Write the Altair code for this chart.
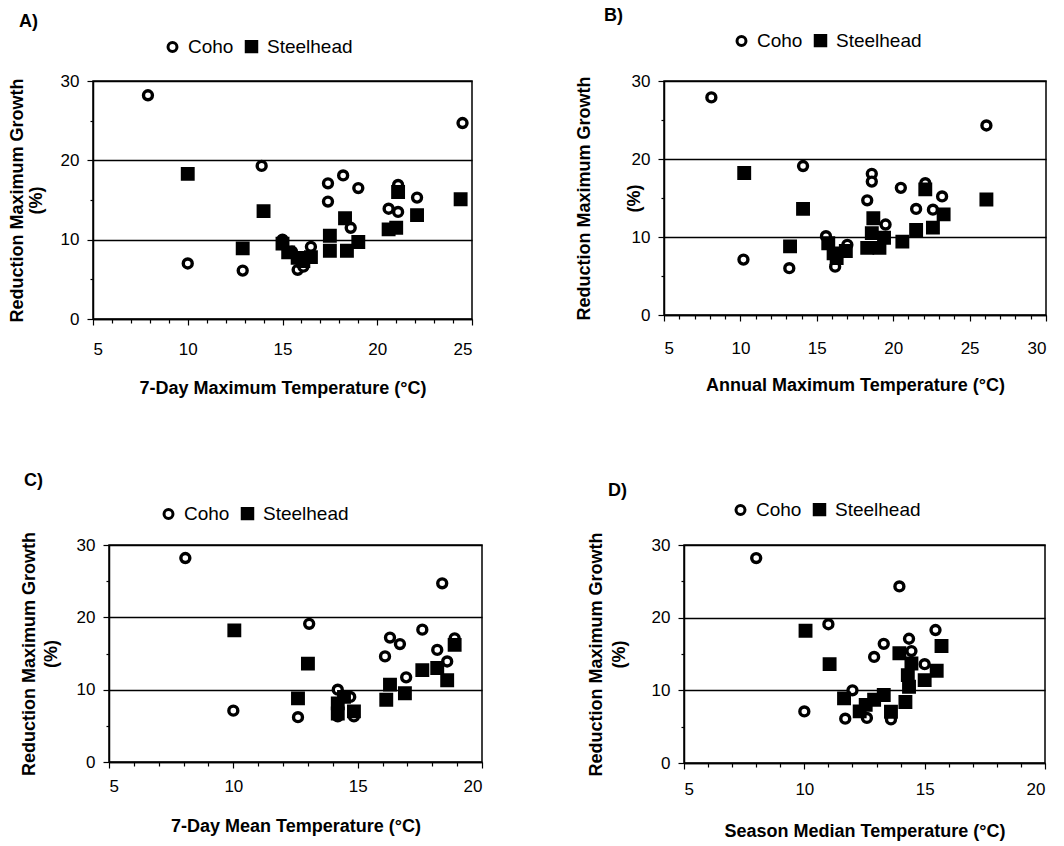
import altair as alt
import pandas as pd

FONT = "Liberation Sans"
SPECIES = ["Coho", "Steelhead"]

# ---- Panel A: 7-Day Maximum Temperature ----
a_coho_x = [7.9, 24.5, 13.9, 18.2, 17.4, 19.0, 17.4, 21.1, 22.1, 20.6, 21.1, 18.6, 16.5, 10.0, 12.9, 15.0, 15.8, 16.1, 15.5]
a_coho_y = [28.2, 24.7, 19.3, 18.1, 17.1, 16.5, 14.8, 16.9, 15.3, 13.9, 13.5, 11.5, 9.1, 7.0, 6.1, 10.0, 6.2, 6.6, 8.5]
a_st_x = [10.0, 14.0, 12.9, 18.3, 17.5, 17.5, 18.4, 19.0, 21.0, 20.6, 22.1, 21.1, 24.4, 15.0, 15.3, 15.8, 16.1, 16.5]
a_st_y = [18.3, 13.6, 8.9, 12.7, 10.5, 8.6, 8.6, 9.7, 11.5, 11.3, 13.1, 16.0, 15.1, 9.5, 8.4, 7.7, 7.3, 7.8]

# ---- Panel B: Annual Maximum Temperature ----
b_coho_x = [8.1, 26.1, 14.1, 18.6, 18.6, 20.5, 22.1, 23.2, 18.3, 21.5, 22.6, 19.5, 17.0, 10.2, 13.2, 15.6, 16.2]
b_coho_y = [27.9, 24.3, 19.1, 18.1, 17.1, 16.3, 16.9, 15.2, 14.7, 13.6, 13.5, 11.6, 9.0, 7.1, 6.0, 10.1, 6.2]
b_st_x = [10.25, 14.1, 13.25, 18.7, 18.6, 18.3, 19.1, 19.4, 20.6, 21.5, 22.6, 23.3, 22.1, 26.1, 15.75, 16.1, 16.9, 16.3]
b_st_y = [18.2, 13.6, 8.8, 12.4, 10.5, 8.6, 8.6, 9.9, 9.4, 10.9, 11.2, 12.9, 16.1, 14.8, 9.2, 7.9, 8.2, 7.3]

# ---- Panel C: 7-Day Mean Temperature ----
c_coho_x = [8.07, 18.4, 13.05, 17.6, 16.3, 16.7, 16.1, 18.9, 18.2, 18.6, 16.95, 10.0, 12.6, 14.2, 14.7, 14.85, 14.2]
c_coho_y = [28.2, 24.7, 19.1, 18.3, 17.2, 16.3, 14.6, 17.1, 15.5, 13.9, 11.7, 7.1, 6.2, 10.0, 9.0, 6.3, 6.3]
c_st_x = [10.04, 13.0, 12.6, 17.6, 18.2, 18.6, 18.9, 16.3, 16.15, 16.9, 14.2, 14.2, 14.85, 14.45]
c_st_y = [18.2, 13.6, 8.8, 12.7, 13.0, 11.3, 16.2, 10.7, 8.6, 9.5, 8.1, 6.7, 7.0, 9.0]

# ---- Panel D: Season Median Temperature ----
d_coho_x = [8.0, 13.95, 11.0, 15.45, 14.35, 13.3, 12.9, 14.45, 15.0, 10.0, 11.7, 12.0, 12.6, 13.6]
d_coho_y = [28.2, 24.3, 19.1, 18.3, 17.1, 16.4, 14.6, 15.4, 13.6, 7.1, 6.1, 10.0, 6.2, 6.0]
d_st_x = [10.05, 11.05, 13.95, 15.5, 15.0, 14.3, 14.35, 14.2, 13.3, 12.9, 12.55, 11.65, 12.3, 13.6, 15.7, 14.45]
d_st_y = [18.2, 13.6, 15.1, 12.7, 11.4, 12.1, 10.5, 8.4, 9.35, 8.7, 8.0, 8.9, 7.1, 7.05, 16.1, 13.7]

y_title = ["Reduction Maximum Growth", "(%)"]

IND = dict(shape="independent", fill="independent", stroke="independent", size="independent")


def panel(label, cx, cy, sx, sy, xmin, xmax, xtitle, w, h, title_x, title_lh,
          leg_x, leg_y, lab_dx, lab_off, x_lab_pad, x_title_pad):
    df = pd.DataFrame({
        "temp": cx + sx,
        "red": cy + sy,
        "Species": ["Coho"] * len(cx) + ["Steelhead"] * len(sx),
    })
    x_axis = alt.Axis(
        values=list(range(xmin, xmax + 1)),
        labelExpr="datum.value % 5 === 0 ? datum.label : ''",
        title=xtitle, grid=False,
        tickSize={"condition": {"test": "datum.value % 5 === 0", "value": 6}, "value": 4},
        labelPadding=x_lab_pad, titlePadding=x_title_pad,
    )
    y_axis = alt.Axis(
        values=[0, 5, 10, 15, 20, 25, 30],
        labelExpr="datum.value % 10 === 0 ? datum.label : ''",
        title=y_title, grid=True, gridColor="black", gridWidth=1.5,
        gridOpacity={"condition": {"test": "datum.value % 10 === 0", "value": 1}, "value": 0},
        tickSize={"condition": {"test": "datum.value % 10 === 0", "value": 6}, "value": 3},
        labelPadding=8,
        titleX=title_x, titleY=h / 2, titleAngle=270, titleBaseline="top",
        titleAlign="center", titleLineHeight=title_lh,
    )
    legend = alt.Legend(
        title=None, orient="none", legendX=leg_x, legendY=leg_y, direction="horizontal",
        labelFont=FONT, labelFontSize=19, labelColor="black",
        symbolStrokeColor="black", symbolStrokeWidth=3, labelOffset=6, columnPadding=6,
    )
    pts = alt.Chart(df).mark_point(filled=True, strokeWidth=3.4, opacity=1).encode(
        x=alt.X("temp:Q", scale=alt.Scale(domain=[xmin, xmax], nice=False, zero=False), axis=x_axis),
        y=alt.Y("red:Q", scale=alt.Scale(domain=[0, 30], nice=False), axis=y_axis),
        shape=alt.Shape("Species:N", scale=alt.Scale(domain=SPECIES, range=["circle", "square"]), legend=legend),
        fill=alt.Fill("Species:N", scale=alt.Scale(domain=SPECIES, range=["white", "black"]), legend=legend),
        stroke=alt.Stroke("Species:N", scale=alt.Scale(domain=SPECIES, range=["black", "black"]), legend=legend),
        size=alt.Size("Species:N", scale=alt.Scale(domain=SPECIES, range=[80, 110]), legend=legend),
    ).properties(
        width=w, height=h,
        title=alt.TitleParams(text=label, anchor="start", frame="group", dx=lab_dx, offset=lab_off,
                              font=FONT, fontSize=18, fontWeight="bold", color="black"),
    )
    return pts


def spacer(w):
    # invisible cell that anchors the left edge of each row
    return alt.Chart(pd.DataFrame({"v": [0]})).mark_rect(opacity=0).encode(
        x=alt.value(0), x2=alt.value(1), y=alt.value(0), y2=alt.value(1)
    ).properties(width=w, height=1, view=alt.ViewBackground(stroke="transparent", fill="transparent"))


A = panel("A)", a_coho_x, a_coho_y, a_st_x, a_st_y, 5, 25, "7-Day Maximum Temperature (°C)",
          379, 238, -85, 19, 70, -44, -74, 6, 16, 22)
B = panel("B)", b_coho_x, b_coho_y, b_st_x, b_st_y, 5, 30, "Annual Maximum Temperature (°C)",
          382, 234, -89, 50, 68, -50, -60, 6, 19, 20)
C = panel("C)", c_coho_x, c_coho_y, c_st_x, c_st_y, 5, 20, "7-Day Mean Temperature (°C)",
          373, 217, -89, 22, 50, -41, -85, 14, 10, 23)
D = panel("D)", d_coho_x, d_coho_y, d_st_x, d_st_y, 5, 20, "Season Median Temperature (°C)",
          361, 218, -97, 23, 47, -45, -76, 0, 12, 25)

pair1 = alt.hconcat(A, B, spacing=99).resolve_scale(**IND).resolve_legend(**IND)
pair2 = alt.hconcat(C, D, spacing=102).resolve_scale(**IND).resolve_legend(**IND)
row1 = alt.hconcat(spacer(4), pair1, spacing=0).resolve_scale(**IND).resolve_legend(**IND)
row2 = alt.hconcat(spacer(16), pair2, spacing=0).resolve_scale(**IND).resolve_legend(**IND)

chart = alt.vconcat(row1, row2, spacing=73).resolve_scale(**IND).resolve_legend(**IND).properties(
    padding={"left": 1, "top": 6, "right": 5, "bottom": 5},
    background="white",
).configure_view(
    stroke="black", strokeWidth=1.5,
).configure_axis(
    domainColor="black", domainWidth=1.5, tickColor="black", tickWidth=1.2,
    labelColor="black", labelFont=FONT, labelFontSize=17,
    titleColor="black", titleFont=FONT, titleFontSize=18, titleFontWeight="bold",
)

chart.save("out.html", embed_options={"renderer": "svg", "actions": False})
